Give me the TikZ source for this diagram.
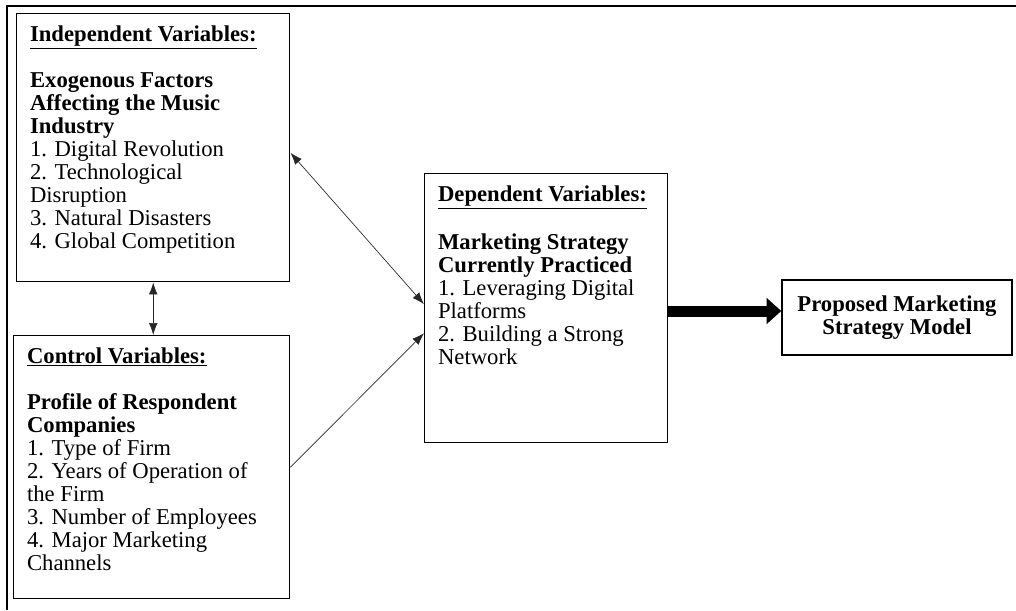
\documentclass[tikz,border=0pt]{standalone}
\usepackage{fontspec}
\setmainfont{Liberation Serif}
\usepackage{tikz}
\usetikzlibrary{calc}
\usetikzlibrary{arrows.meta}

\newcommand{\vartext}[3]{\parbox[c][#2][t]{#1}{\raggedright #3}}

\tikzset{
    varbox/.style={draw, line width=1.1pt, anchor=north west, inner xsep=10pt, inner ysep=9pt,
        font=\fontsize{17pt}{17.25pt}\selectfont},
    modelbox/.style={draw, line width=1.1pt, align=center, minimum width=172.5pt, minimum height=56.25pt,
        font=\fontsize{17pt}{17.25pt}\selectfont\bfseries},
    thinarrow/.style={line width=0.5pt, draw=black!85, -{Latex[length=9pt,width=6.5pt]}},
    thinboth/.style={line width=0.5pt, draw=black!85, {Latex[length=9pt,width=6.5pt]}-{Latex[length=9pt,width=6.5pt]}},
    bigarrow/.style={line width=8.25pt, -{Triangle[length=11pt,width=19pt]}},
    frameline/.style={line width=1.5pt}
}

\begin{document}
\begin{tikzpicture}[x=0.75pt, y=-0.75pt]
                \useasboundingbox (0,0) rectangle (1016,610);
                \draw[frameline] (7,610) -- (7,6) -- (1016,6);

                \node[varbox] (indep) at (16,13) {\vartext{184.75pt}{183pt}{%
                    \underline{\textbf{Independent Variables:}}\\[\baselineskip]
                    \textbf{Exogenous Factors}\\
                    \textbf{Affecting the Music}\\
                    \textbf{Industry}\\
                    1. Digital Revolution\\
                    2. Technological\\
                    Disruption\\
                    3. Natural Disasters\\
                    4. Global Competition}};
                \node[varbox] (ctrl) at (13,335) {\vartext{187pt}{179.25pt}{%
                    \underline{\textbf{Control Variables:}}\\[\baselineskip]
                    \textbf{Profile of Respondent}\\
                    \textbf{Companies}\\
                    1. Type of Firm\\
                    2. Years of Operation of\\
                    the Firm\\
                    3. Number of Employees\\
                    4. Major Marketing\\
                    Channels}};
                \node[varbox] (dep) at (424,173) {\vartext{162.25pt}{183.75pt}{%
                    \underline{\textbf{Dependent Variables:}}\\[\baselineskip]
                    \textbf{Marketing Strategy}\\
                    \textbf{Currently Practiced}\\
                    1. Leveraging Digital\\
                    Platforms\\
                    2. Building a Strong\\
                    Network}};
                \node[modelbox] (model) at (897,317.5) {Proposed Marketing\\Strategy Model};

                \coordinate (mid) at (0,311);
                \draw[thinboth] (indep.south) -- (indep.south |- ctrl.north);
                \draw[thinboth] ($(indep.east)+(0,5)$) -- ($(dep.west)+(0,-4)$);
                \draw[thinarrow] (ctrl.east) -- ($(dep.west)+(0,25)$);
                \draw[bigarrow] (dep.east |- mid) -- (model.west |- mid);
            \end{tikzpicture}
\end{document}
